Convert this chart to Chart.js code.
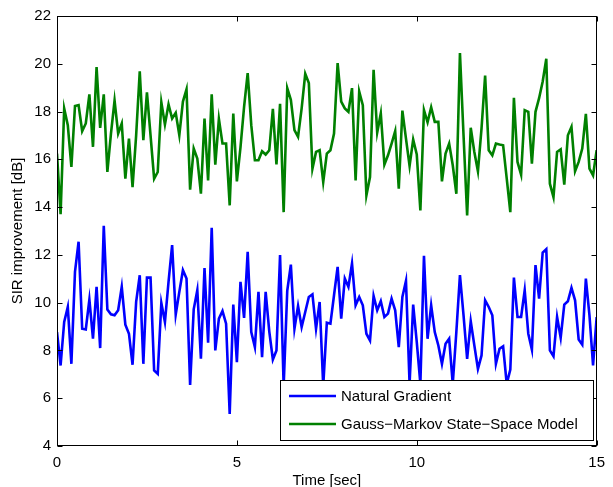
<!DOCTYPE html>
<html>
<head>
<meta charset="utf-8">
<script src="https://cdn.jsdelivr.net/npm/chart.js@4"></script>
<style>
html,body{margin:0;padding:0;background:#fff;}
#wrap{width:613px;height:487px;position:relative;}
</style>
</head>
<body>
<div id="wrap"><canvas id="c" width="613" height="487"></canvas></div>
<script>
// ---- data ----
const sampleStep = 0.1; // seconds between samples
const seriesNames = ['Natural Gradient', 'Gauss\u2212Markov State\u2212Space Model'];
const naturalGradient = [
  8.77,7.37,9.19,9.82,7.44,11.29,12.55,8.91,8.88,10.13,
  8.49,10.66,8.1,13.22,9.71,9.51,9.47,9.68,10.66,9.08,
  8.7,7.4,10.03,11.15,7.44,11.05,11.05,7.16,7.02,9.99,
  9.19,10.87,12.41,9.5,10.45,11.36,11.01,6.56,9.72,10.52,
  7.65,11.45,8.32,13.13,8.0,9.33,9.65,9.12,5.34,9.92,
  7.51,10.87,9.36,12.13,8.77,8.14,10.45,7.72,10.45,8.8,
  7.62,8.0,11.99,6.5,10.5,11.59,8.91,9.86,8.98,9.61,
  10.24,10.35,8.91,10.03,6.5,9.16,9.12,10.31,11.5,9.33,
  11.01,10.66,11.64,9.89,10.24,9.89,8.7,8.42,10.28,9.68,
  10.06,9.4,9.54,10.17,9.68,8.14,10.24,10.91,6.6,9.92,
  8.35,6.6,11.96,8.49,9.89,8.77,8.21,7.44,8.28,8.49,
  6.6,8.77,11.15,9.47,7.65,9.22,8.21,7.23,7.79,10.1,
  9.82,9.47,7.44,8.07,8.17,6.6,7.2,11.05,9.4,9.4,
  10.52,8.7,8.03,11.57,10.17,12.1,12.24,8.0,7.76,9.4,
  8.53,9.92,10.06,10.62,10.1,8.46,8.24,11.01,9.47,7.37,
  9.4
];
const gaussMarkov = [
  16.24,13.7,18.13,17.43,15.68,18.23,18.27,17.18,17.5,18.72,
  16.52,19.86,17.32,18.72,15.47,17.08,18.46,17.08,17.5,15.19,
  16.87,14.84,17.0,19.68,16.8,18.8,17.0,15.19,15.47,18.39,
  17.46,18.3,17.71,17.95,17.01,18.42,18.93,14.73,16.45,16.03,
  14.56,17.71,15.12,18.72,15.78,17.69,16.66,16.66,14.07,17.92,
  15.08,16.5,18.2,19.61,17.43,15.96,15.96,16.34,16.2,16.38,
  18.11,15.79,18.32,13.79,18.98,18.49,17.22,16.94,18.13,19.58,
  19.19,15.61,16.31,16.38,15.05,16.24,16.38,17.08,20.03,18.42,
  18.13,17.99,18.98,15.12,18.84,18.27,14.49,15.26,19.75,17.12,
  17.92,15.78,16.17,16.66,17.18,14.77,18.04,16.87,15.72,16.83,
  16.2,13.86,18.06,17.55,18.18,17.57,17.57,15.08,16.24,16.66,
  15.75,14.56,20.45,17.0,13.65,17.32,16.31,15.5,17.3,19.51,
  16.38,16.17,16.66,16.62,16.59,15.2,13.79,18.58,15.89,15.36,
  18.06,17.99,15.82,17.99,18.56,19.26,20.21,14.98,14.42,16.31,
  16.42,14.94,17.01,17.36,15.5,15.89,16.45,17.9,15.61,15.33,
  16.38
];
const xTicks = [0, 5, 10, 15];
const yTicks = [4, 6, 8, 10, 12, 14, 16, 18, 20, 22];
const xTitle = 'Time [sec]';
const yTitle = 'SIR improvement [dB]';

// ---- build ----
const times = naturalGradient.map((_, i) => Math.round(i * sampleStep * 10) / 10);
const toPts = arr => arr.map((v, i) => ({x: times[i], y: v}));
const colors = ['#0000ff', '#008000'];
const FONT = '"Liberation Sans", Arial, Helvetica, sans-serif';
const FS = 15;

const boxPlugin = {
  id: 'matlabBox',
  afterDatasetsDraw(chart) {
    const {ctx, chartArea: a, scales} = chart;
    ctx.save();
    ctx.strokeStyle = '#000';
    ctx.lineWidth = 1;
    const L = Math.round(a.left) + 0.5, R = Math.round(a.right) - 0.5;
    const T = Math.round(a.top) + 0.5, B = Math.round(a.bottom) - 0.5;
    ctx.strokeRect(L, T, R - L, B - T);
    const tl = 5;
    ctx.beginPath();
    xTicks.forEach(v => {
      const px = Math.round(scales.x.getPixelForValue(v)) + 0.5;
      ctx.moveTo(px, B); ctx.lineTo(px, B - tl);
      ctx.moveTo(px, T); ctx.lineTo(px, T + tl);
    });
    yTicks.forEach(v => {
      const py = Math.round(scales.y.getPixelForValue(v)) + 0.5;
      ctx.moveTo(L, py); ctx.lineTo(L + tl, py);
      ctx.moveTo(R, py); ctx.lineTo(R - tl, py);
    });
    ctx.stroke();

    // legend box (inside plot, lower right)
    const lx0 = 280.5, lx1 = 593.5, ly0 = 380.5, ly1 = 440.5;
    ctx.fillStyle = '#fff';
    ctx.fillRect(lx0, ly0, lx1 - lx0, ly1 - ly0);
    ctx.strokeRect(lx0, ly0, lx1 - lx0, ly1 - ly0);
    ctx.font = FS + 'px ' + FONT;
    ctx.textBaseline = 'middle';
    ctx.textAlign = 'left';
    const rows = [396, 424];
    chart.data.datasets.forEach((ds, i) => {
      ctx.strokeStyle = ds.borderColor;
      ctx.lineWidth = ds.borderWidth;
      ctx.beginPath();
      ctx.moveTo(289, rows[i]); ctx.lineTo(336, rows[i]);
      ctx.stroke();
      ctx.fillStyle = '#000';
      ctx.fillText(ds.label, 341, rows[i] + 1);
    });
    ctx.restore();
  }
};

new Chart(document.getElementById('c'), {
  type: 'line',
  data: {
    datasets: [
      {label: seriesNames[0], data: toPts(naturalGradient), borderColor: colors[0], borderWidth: 2.6, pointRadius: 0, tension: 0, fill: false},
      {label: seriesNames[1], data: toPts(gaussMarkov), borderColor: colors[1], borderWidth: 2.6, pointRadius: 0, tension: 0, fill: false}
    ]
  },
  options: {
    responsive: false,
    animation: false,
    devicePixelRatio: 1,
    layout: {padding: {left: 0, top: 16, right: 12, bottom: 0}},
    plugins: {legend: {display: false}, tooltip: {enabled: false}},
    scales: {
      x: {
        type: 'linear', min: 0, max: 15,
        afterBuildTicks: s => { s.ticks = xTicks.map(v => ({value: v})); },
        afterFit: s => { s.height = 41; },
        grid: {display: false, drawTicks: false},
        border: {display: false},
        ticks: {color: '#000', padding: 8, maxRotation: 0, font: {family: FONT, size: FS}},
        title: {display: true, text: xTitle, color: '#000', font: {family: FONT, size: FS, lineHeight: 0.8}, padding: {top: 0, bottom: 0}}
      },
      y: {
        type: 'linear', min: 4, max: 22,
        afterBuildTicks: s => { s.ticks = yTicks.map(v => ({value: v})); },
        afterFit: s => { s.width = 57; },
        grid: {display: false, drawTicks: false},
        border: {display: false},
        ticks: {color: '#000', padding: 6, font: {family: FONT, size: FS}},
        title: {display: true, text: yTitle, color: '#000', font: {family: FONT, size: FS, lineHeight: 1}, padding: {top: 10.5, bottom: 0}}
      }
    }
  },
  plugins: [boxPlugin]
});
</script>
</body>
</html>
